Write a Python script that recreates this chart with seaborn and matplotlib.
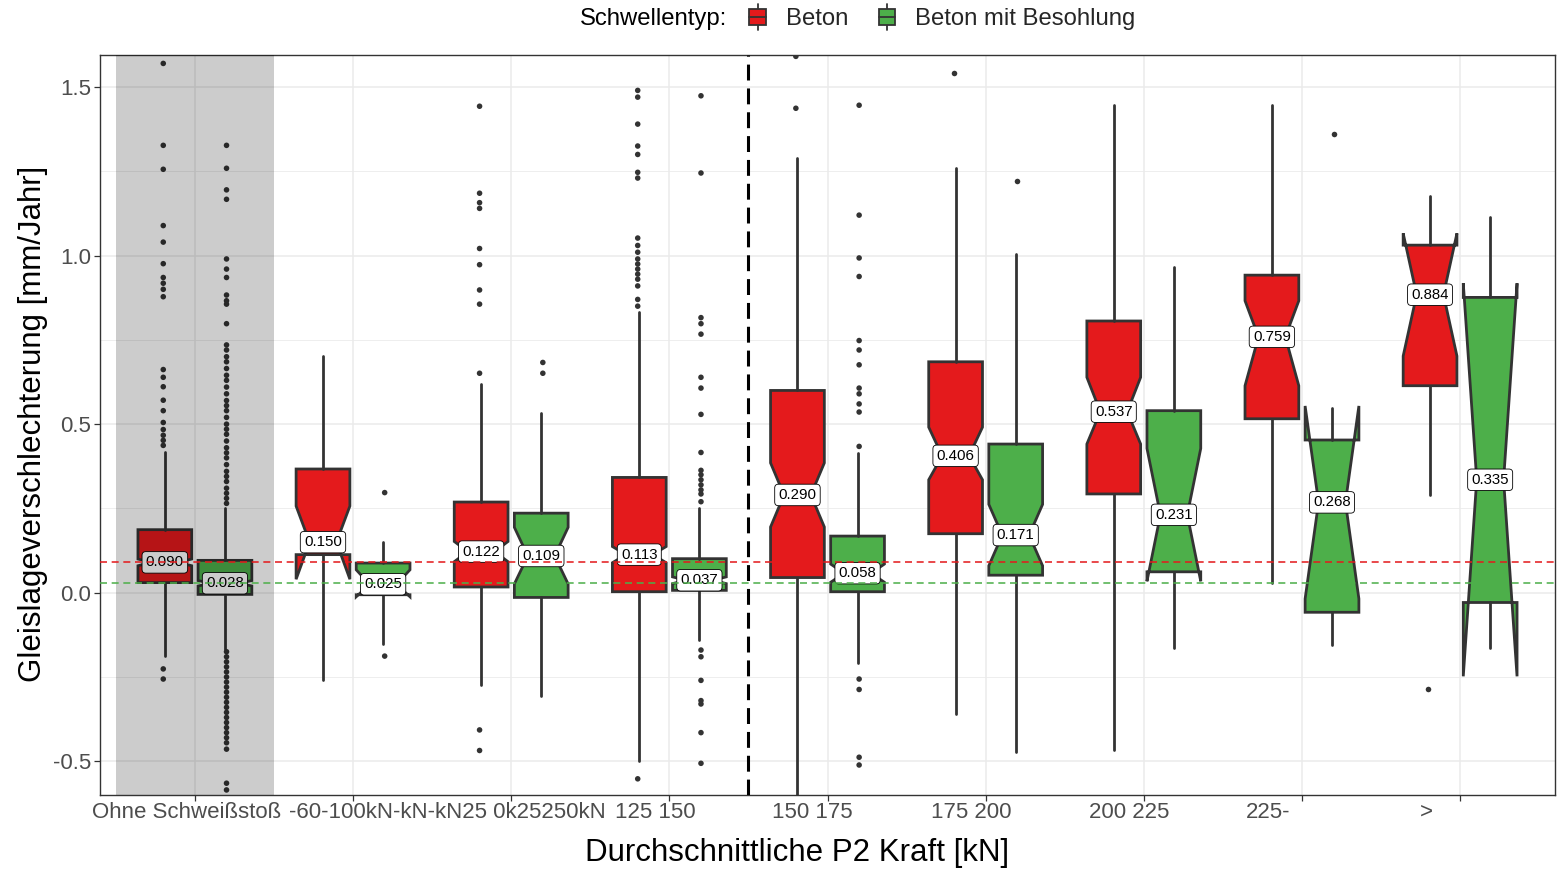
import numpy as np
import pandas as pd
import matplotlib
matplotlib.use("Agg")
import matplotlib.pyplot as plt
import seaborn as sns
from matplotlib.patches import Rectangle
from matplotlib.lines import Line2D
from matplotlib.legend_handler import HandlerBase
import matplotlib.transforms as mtransforms

# ---------------- data ----------------
groups = ["Ohne Schweißstoß", "-60-100kN", "100-125kN", "125-150kN", "150-175kN",
          "175-200kN", "200-225kN", "225-250kN", ">250kN"]
types = ["Beton", "Beton mit Besohlung"]

beton_q1 = [0.030, 0.113, 0.017, 0.003, 0.045, 0.175, 0.293, 0.516, 0.614]
beton_med = [0.090, 0.150, 0.122, 0.113, 0.290, 0.406, 0.537, 0.759, 0.884]
beton_q3 = [0.187, 0.367, 0.269, 0.342, 0.600, 0.685, 0.806, 0.942, 1.031]
beton_cilo = [0.080, 0.040, 0.092, 0.089, 0.195, 0.335, 0.441, 0.614, 0.702]
beton_cihi = [0.100, 0.257, 0.152, 0.137, 0.385, 0.491, 0.639, 0.866, 1.066]
beton_wlo = [-0.188, -0.259, -0.273, -0.499, -0.650, -0.361, -0.467, 0.028, 0.290]
beton_whi = [0.416, 0.703, 0.618, 0.834, 1.290, 1.259, 1.448, 1.448, 1.177]

besohl_q1 = [-0.005, -0.006, -0.014, 0.007, 0.003, 0.052, 0.062, -0.058, -0.029]
besohl_med = [0.028, 0.025, 0.109, 0.037, 0.058, 0.171, 0.231, 0.268, 0.335]
besohl_q3 = [0.096, 0.088, 0.236, 0.101, 0.168, 0.441, 0.540, 0.453, 0.876]
besohl_cilo = [0.020, -0.012, 0.026, 0.027, 0.031, 0.080, 0.034, -0.018, -0.248]
besohl_cihi = [0.036, 0.068, 0.194, 0.047, 0.085, 0.262, 0.428, 0.554, 0.918]
besohl_wlo = [-0.167, -0.153, -0.305, -0.139, -0.209, -0.471, -0.164, -0.154, -0.163]
besohl_whi = [0.250, 0.151, 0.533, 0.250, 0.413, 1.004, 0.967, 0.548, 1.115]

beton_outliers = [
    [1.570, 1.327, 1.256, 1.089, 1.040, 0.976, 0.935, 0.918, 0.900, 0.878, 0.662, 0.639,
     0.611, 0.571, 0.540, 0.505, 0.484, 0.467, 0.452, 0.437, -0.226, -0.256],
    [],
    [1.443, 1.185, 1.157, 1.140, 1.021, 0.973, 0.898, 0.856, 0.651, -0.407, -0.468],
    [1.490, 1.470, 1.390, 1.325, 1.300, 1.247, 1.230, 1.052, 1.030, 1.010, 0.990, 0.975,
     0.960, 0.945, 0.930, 0.910, 0.870, 0.850, -0.552],
    [1.591, 1.437],
    [1.543],
    [],
    [],
    [-0.287],
]
besohl_outliers = [
    [1.327, 1.259, 1.195, 1.167, 0.990, 0.960, 0.935, 0.883, 0.866, 0.856, 0.798, 0.735,
     0.720, 0.700, 0.685, 0.665, 0.645, 0.630, 0.610, 0.590, 0.570, 0.555, 0.540, 0.520,
     0.500, 0.485, 0.470, 0.450, 0.430, 0.415, 0.400, 0.380, 0.360, 0.345, 0.330, 0.310,
     0.295, 0.280, 0.265, -0.175, -0.190, -0.205, -0.220, -0.235, -0.250, -0.265, -0.280,
     -0.295, -0.310, -0.325, -0.340, -0.355, -0.370, -0.385, -0.400, -0.415, -0.430,
     -0.445, -0.464, -0.565, -0.585],
    [0.297, -0.188],
    [0.683, 0.651],
    [1.474, 1.245, 0.816, 0.798, 0.767, 0.639, 0.607, 0.529, 0.416, 0.363, 0.350, 0.335,
     0.320, 0.305, 0.293, 0.270, -0.170, -0.190, -0.260, -0.320, -0.330, -0.415, -0.506],
    [1.446, 1.120, 0.993, 0.938, 0.748, 0.720, 0.676, 0.607, 0.590, 0.560, 0.536, 0.434,
     -0.256, -0.287, -0.488, -0.511],
    [1.222],
    [],
    [1.361],
    [],
]

# x tick label texts as they appear in the reference (garbled, shifted left of the ticks)
tick_texts_center = ["Ohne Schweißstoß", "125 150", "150 175", "175 200", "200 225", "225-", ">"]
tick_pos_center = [-0.05, 2.913, 3.905, 4.910, 5.908, 6.787, 7.785]
tick_texts_left = ["-60-100kN-kN-kN25 0k25250kN"]
tick_pos_left = [0.592]

palette = {"Beton": "#E41A1C", "Beton mit Besohlung": "#4DAF4A"}
dark = "#333333"

# ---------------- style ----------------
sns.set_theme(style="whitegrid")
plt.rcParams["font.family"] = ["Liberation Sans", "DejaVu Sans"]

fig = plt.figure(figsize=(15.6, 8.73), dpi=100)
ax = fig.add_axes([100 / 1560, 1 - 795 / 873, 1455 / 1560, 740 / 873])

# outlier points via seaborn
rows = []
for g, vals in zip(groups, beton_outliers):
    rows += [(g, "Beton", v) for v in vals]
for g, vals in zip(groups, besohl_outliers):
    rows += [(g, "Beton mit Besohlung", v) for v in vals]
df_out = pd.DataFrame(rows, columns=["Gruppe", "Schwellentyp", "Wert"])
sns.stripplot(data=df_out, x="Gruppe", y="Wert", hue="Schwellentyp", order=groups,
              hue_order=types, dodge=True, jitter=False,
              palette={t: dark for t in types}, size=4.0, linewidth=0,
              legend=False, ax=ax, zorder=4)

# notched boxes
def make_stats(q1, med, q3, cilo, cihi, wlo, whi):
    return [dict(q1=a, med=b, q3=c, cilo=d, cihi=e, whislo=f, whishi=h, fliers=[])
            for a, b, c, d, e, f, h in zip(q1, med, q3, cilo, cihi, wlo, whi)]

stats_b = make_stats(beton_q1, beton_med, beton_q3, beton_cilo, beton_cihi, beton_wlo, beton_whi)
stats_s = make_stats(besohl_q1, besohl_med, besohl_q3, besohl_cilo, besohl_cihi, besohl_wlo, besohl_whi)
idx = np.arange(len(groups))
off, bw = 0.19, 0.34
lw = 2.0
for stats, pos, t in [(stats_b, idx - off, "Beton"), (stats_s, idx + off, "Beton mit Besohlung")]:
    ax.bxp(stats, positions=pos, widths=bw, patch_artist=True, shownotches=True,
           showcaps=False, showfliers=False, manage_ticks=False,
           boxprops=dict(facecolor=palette[t], edgecolor=dark, linewidth=lw),
           whiskerprops=dict(color=dark, linewidth=lw),
           medianprops=dict(color=dark, linewidth=lw), zorder=3)

# median labels
for pos, meds in [(idx - off, beton_med), (idx + off, besohl_med)]:
    for p, m in zip(pos, meds):
        ax.text(p, m, f"{m:.3f}", ha="center", va="center", fontsize=10.8, color="black",
                zorder=6,
                bbox=dict(boxstyle="round,pad=0.25,rounding_size=0.25", fc="white",
                          ec="black", lw=0.6))

# shaded first group
ax.axvspan(-0.5, 0.5, color="black", alpha=0.2, lw=0, zorder=7)

# reference lines
ax.axhline(beton_med[0], color="#E41A1C", alpha=0.8, lw=1.4, dashes=(3.6, 2.4), zorder=8)
ax.axhline(besohl_med[0], color="#4DAF4A", alpha=0.8, lw=1.4, dashes=(3.6, 2.4), zorder=8)
ax.axvline(3.5, color="black", lw=2.2, dashes=(5.2, 2.6), zorder=8)

# axes
ax.set_xlim(-0.6, 8.6)
ax.set_ylim(-0.6, 1.595)
ax.set_xticks(idx)
ax.set_xticklabels([""] * len(groups))
ax.set_yticks([-0.5, 0.0, 0.5, 1.0, 1.5])
ax.set_yticklabels(["-0.5", "0.0", "0.5", "1.0", "1.5"])
ax.set_yticks([-0.25, 0.25, 0.75, 1.25], minor=True)
ax.grid(True, which="major", color="#EBEBEB", lw=1.1, zorder=0)
ax.grid(True, which="minor", axis="y", color="#EBEBEB", lw=0.6, zorder=0)
ax.xaxis.grid(True, which="major", color="#EBEBEB", lw=1.1)
ax.set_axisbelow(True)
ax.tick_params(axis="both", which="major", bottom=True, left=True, length=4.5, width=0.9,
               color=dark, labelsize=16, labelcolor="#4D4D4D", pad=2)
ax.tick_params(axis="both", which="minor", length=0)
for s in ax.spines.values():
    s.set_color(dark)
    s.set_linewidth(1.0)
ax.set_xlabel("")
ax.set_ylabel("")

tt = mtransforms.blended_transform_factory(ax.transData, ax.transAxes)
for txt, p in zip(tick_texts_center, tick_pos_center):
    ax.text(p, -0.009, txt, transform=tt, ha="center", va="top", fontsize=16.0, color="#4D4D4D")
for txt, p in zip(tick_texts_left, tick_pos_left):
    ax.text(p, -0.009, txt, transform=tt, ha="left", va="top", fontsize=16.0, color="#4D4D4D")

fig.text(33 / 1560, 1 - 424 / 873, "Gleislageverschlechterung [mm/Jahr]", rotation=90,
         ha="center", va="center", fontsize=22.5, color="black")
fig.text(797 / 1560, 1 - 853 / 873, "Durchschnittliche P2 Kraft [kN]",
         ha="center", va="center", fontsize=22.5, color="black")

# legend
class BoxKey(HandlerBase):
    def create_artists(self, legend, orig_handle, xdescent, ydescent, width, height,
                       fontsize, trans):
        fc = orig_handle.get_facecolor()
        cx = width / 2 - xdescent
        w = width * 0.85
        y0 = -ydescent
        vline = Line2D([cx, cx], [y0 - 0.2 * height, y0 + 1.2 * height], color=dark, lw=1.3,
                       transform=trans)
        rect = Rectangle((cx - w / 2, y0 + 0.05 * height), w, 0.9 * height, facecolor=fc,
                         edgecolor=dark, lw=1.3, transform=trans)
        med = Line2D([cx - w / 2, cx + w / 2], [y0 + 0.5 * height] * 2, color=dark, lw=1.3,
                     transform=trans)
        return [vline, rect, med]

handles = [Rectangle((0, 0), 1, 1, facecolor=palette[t]) for t in types]
fig.text(580 / 1560, 1 - 19 / 873, "Schwellentyp:", ha="left", va="center", fontsize=17.2,
         color="black")
leg = fig.legend(handles, types, loc="center left", bbox_to_anchor=(748 / 1560, 1 - 19 / 873),
                 ncol=2, frameon=False, fontsize=17.2, handler_map={Rectangle: BoxKey()},
                 handlelength=0.8, handleheight=0.8, handletextpad=0.8, columnspacing=1.2,
                 borderaxespad=0, borderpad=0)

fig.savefig("out.png", dpi=100)
